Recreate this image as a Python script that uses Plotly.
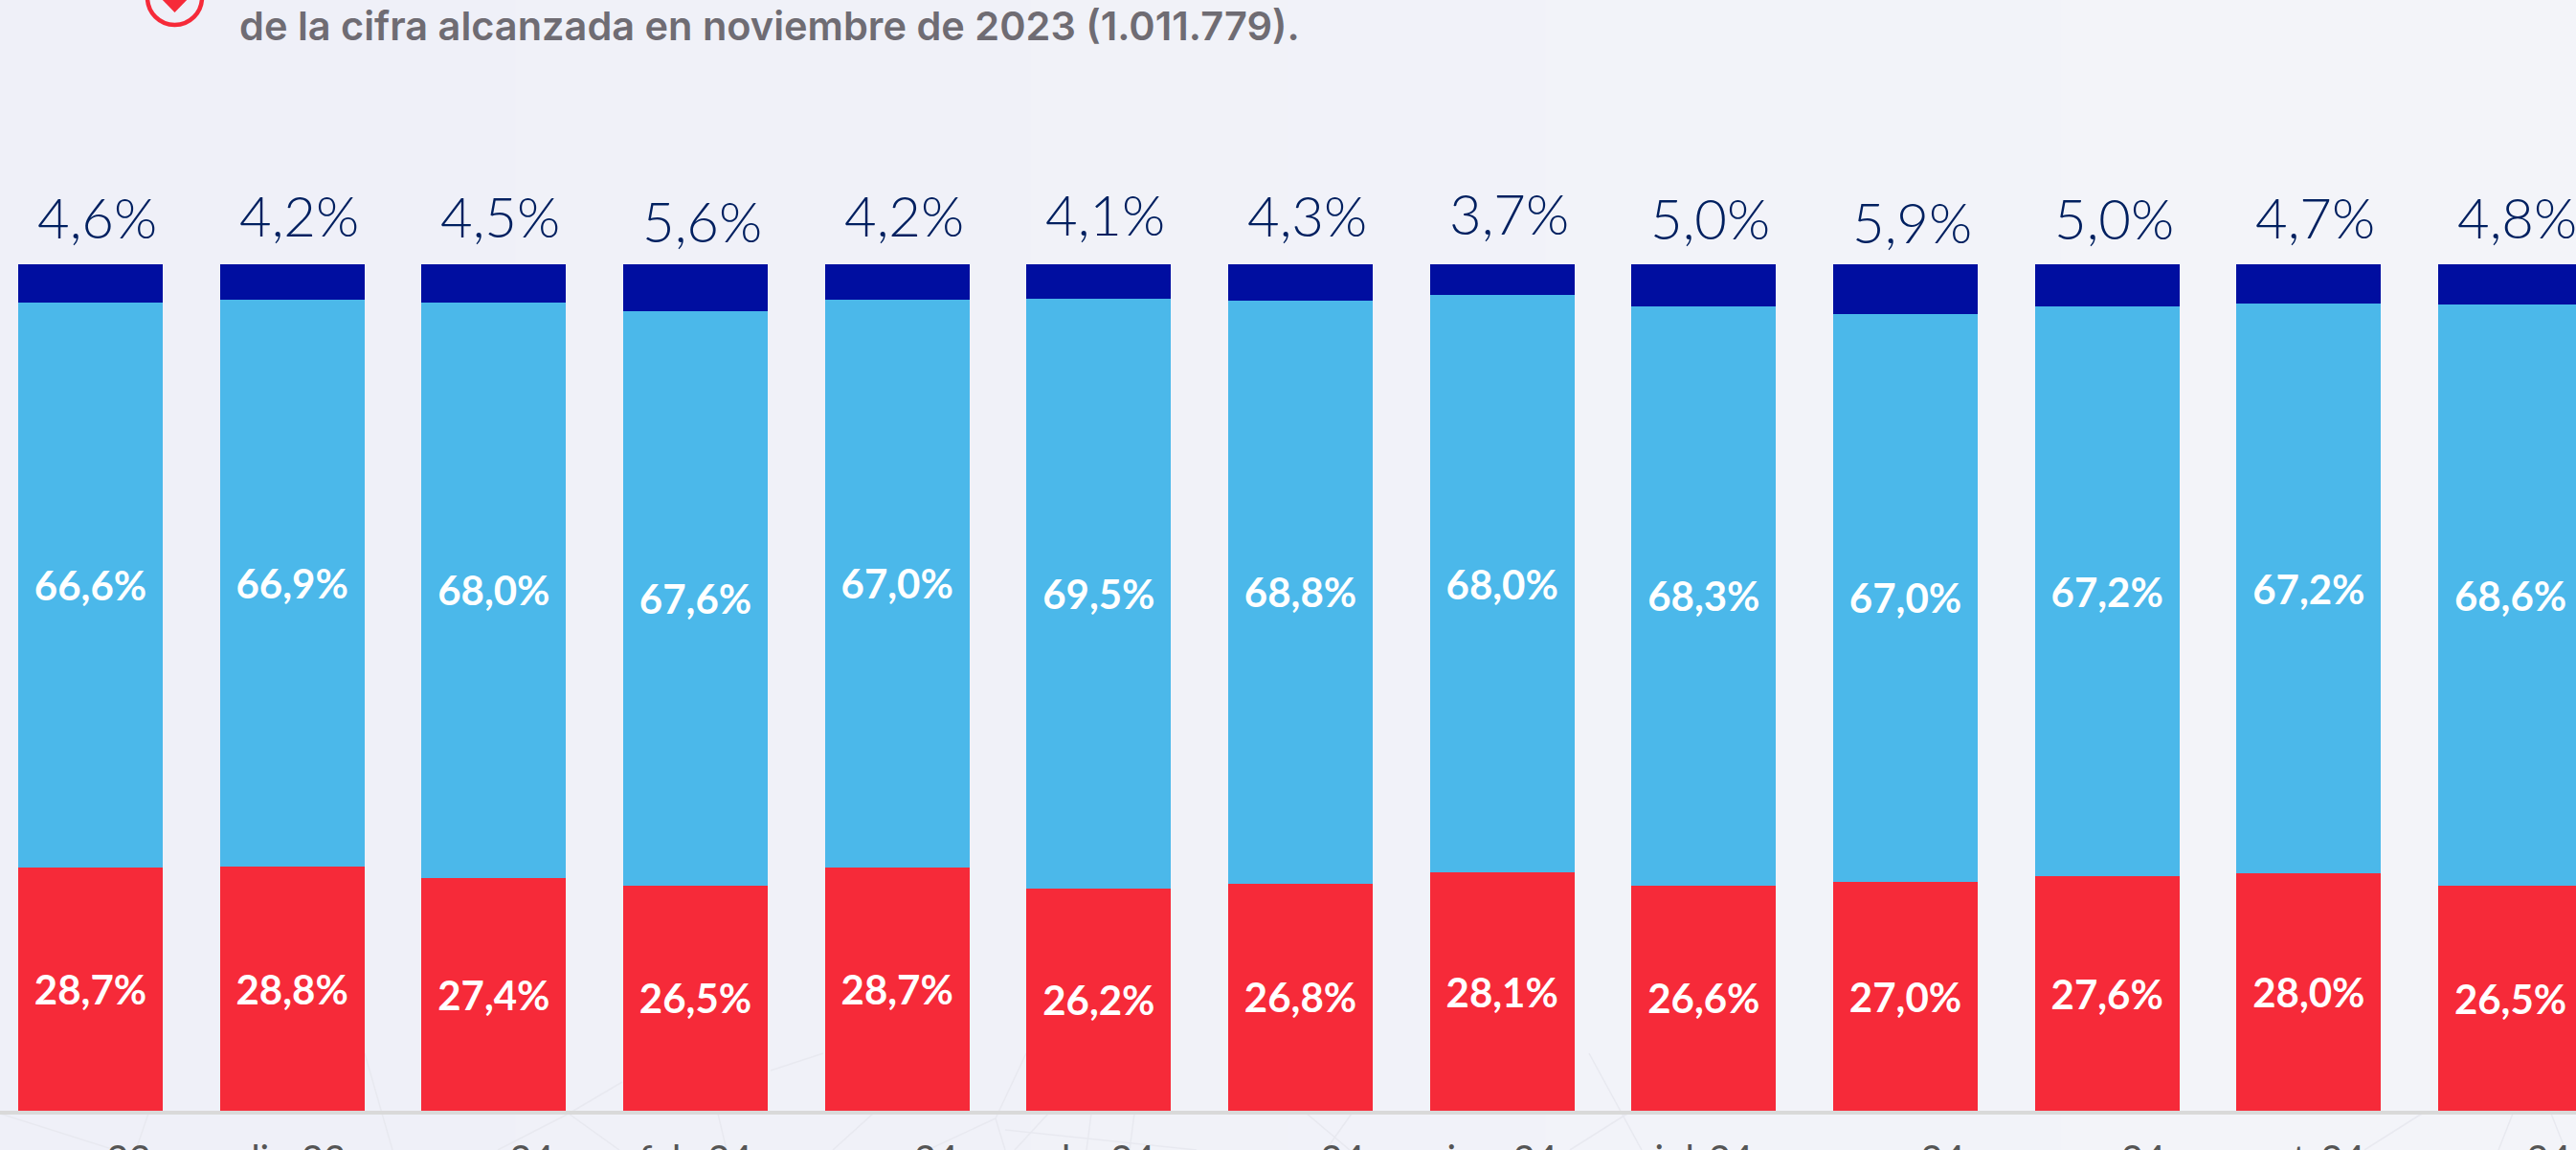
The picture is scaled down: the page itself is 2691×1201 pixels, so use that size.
import plotly.graph_objects as go

# ---------- data ----------
months = ["nov-23", "dic-23", "ene-24", "feb-24", "mar-24", "abr-24", "may-24",
          "jun-24", "jul-24", "ago-24", "sep-24", "oct-24", "nov-24"]
lower = [28.7, 28.8, 27.4, 26.5, 28.7, 26.2, 26.8, 28.1, 26.6, 27.0, 27.6, 28.0, 26.5]
middle = [66.6, 66.9, 68.0, 67.6, 67.0, 69.5, 68.8, 68.0, 68.3, 67.0, 67.2, 67.2, 68.6]
upper = [4.6, 4.2, 4.5, 5.6, 4.2, 4.1, 4.3, 3.7, 5.0, 5.9, 5.0, 4.7, 4.8]
note = "de la cifra alcanzada en noviembre de 2023 (1.011.779)."

RED, BLUE, DARK, NAVY = "#F62A39", "#4BB8EA", "#000EA0", "#002060"
W, H = 2691, 1201
AXIS_Y, TOP_Y = 1160, 275.7
FIRST_CENTER, STEP, BAR_W = 94.5, 210.67, 151


def fmt(v):
    return f"{v:.1f}".replace(".", ",") + "%"


def px(x):
    return x / W


def py(y):
    return 1 - y / H


fig = go.Figure()
for vals, col in ((lower, RED), (middle, BLUE)):
    fig.add_bar(x=months, y=vals, marker=dict(color=col, line=dict(width=0)),
                text=[fmt(v) for v in vals], textposition="inside", textangle=0,
                insidetextanchor="middle", constraintext="none",
                textfont=dict(family="Lato", size=42, color="white", weight=700),
                hoverinfo="skip")
fig.add_bar(x=months, y=upper, marker=dict(color=DARK, line=dict(width=0)), hoverinfo="skip")

# values above the bars: placed from the segment centre
annotations = [
    dict(x=m, y=100 - v / 2, xref="x", yref="y", text=fmt(v), showarrow=False,
         xanchor="center", yanchor="middle", xshift=7, yshift=70,
         font=dict(family="Lato", size=58, color=NAVY, weight=300))
    for m, v in zip(months, upper)
]
annotations.append(dict(x=px(248), y=py(42), xref="paper", yref="paper", text=note,
                        showarrow=False, xanchor="left", yanchor="bottom", yshift=-12,
                        font=dict(family="Inter", size=41.5, color="#6F6C73", weight=600)))

shapes = []
# soft left-to-right background gradient
n = 10
for i in range(n):
    t = i / (n - 1)
    c = f"rgb({round(239 + 4 * t)},{round(240 + 4 * t)},{round(248 + t)})"
    shapes.append(dict(type="rect", xref="paper", yref="paper", x0=i / n, x1=(i + 1) / n, y0=0, y1=1,
                       fillcolor=c, line=dict(width=0), layer="below"))
# faint network decoration
for a, b, c, d in [(0, 1163, 120, 1201), (155, 1163, 142, 1201), (381, 1100, 410, 1201),
                   (520, 1201, 594, 1163), (594, 1163, 650, 1130), (594, 1163, 647, 1201),
                   (750, 1163, 759, 1201), (912, 1163, 870, 1201), (805, 1118, 860, 1100),
                   (1040, 1168, 969, 1201), (1040, 1168, 1072, 1100), (1040, 1168, 1050, 1201),
                   (1050, 1180, 1250, 1201), (1095, 1163, 1060, 1201), (1140, 1163, 1135, 1201),
                   (1185, 1163, 1180, 1201), (1365, 1163, 1410, 1201), (1412, 1163, 1385, 1201),
                   (1660, 1100, 1715, 1201), (1700, 1163, 1640, 1201), (2530, 1163, 2470, 1201),
                   (2625, 1163, 2610, 1201), (2665, 1163, 2680, 1201)]:
    shapes.append(dict(type="line", xref="paper", yref="paper", x0=px(a), y0=py(b), x1=px(c), y1=py(d),
                       line=dict(color="#E8E9F0", width=1.5), layer="below"))
# icon: red ring with heart tip
shapes.append(dict(type="circle", xref="paper", yref="paper", x0=px(154), x1=px(211), y0=py(-31), y1=py(26),
                   fillcolor="rgba(0,0,0,0)", line=dict(color=RED, width=4.5)))
shapes.append(dict(type="path", xref="paper", yref="paper",
                   path=f"M {px(182.5)} {py(13)} L {px(165)} {py(-5)} L {px(200)} {py(-5)} Z",
                   fillcolor=RED, line=dict(width=0)))

fig.update_layout(
    width=W, height=H, margin=dict(l=0, r=0, t=0, b=0, pad=0),
    paper_bgcolor="#F1F2F8", plot_bgcolor="rgba(0,0,0,0)", showlegend=False,
    barmode="stack", barnorm="percent", bargap=1 - BAR_W / STEP,
    annotations=annotations, shapes=shapes,
    xaxis=dict(type="category", categoryorder="array", categoryarray=months, automargin=False,
               range=[-FIRST_CENTER / STEP, (W - FIRST_CENTER) / STEP],
               showgrid=False, zeroline=False, showline=True, linecolor="#D9D9D9", linewidth=4,
               ticks="", ticklabelstandoff=13, tickangle=0,
               tickfont=dict(family="Lato", size=40, color="#555555")),
    yaxis=dict(domain=[(H - AXIS_Y) / H, 1], range=[0, AXIS_Y * 100 / (AXIS_Y - TOP_Y)], automargin=False,
               visible=False, showgrid=False, zeroline=False),
)
fig.write_html("out.html", config=dict(displayModeBar=False),
               post_script="document.body.style.margin='0';document.body.style.overflow='hidden';")
